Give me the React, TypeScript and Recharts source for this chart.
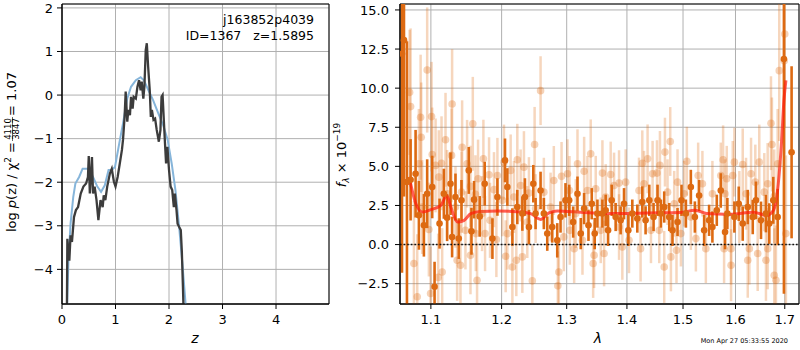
import React from 'react';
import {
  ComposedChart, Line, Scatter, ErrorBar, XAxis, YAxis, CartesianGrid,
  ReferenceLine, ReferenceArea, Label,
} from 'recharts';

// left panel: log p(z)
const pzRaw: [number, number][] = [
  [0.09, -5.2], [0.10, -3.3], [0.137, -3.8], [0.16, -3.22], [0.186, -3.37], [0.224, -2.8],
  [0.26, -2.64], [0.30, -2.57], [0.35, -2.26], [0.40, -2.1], [0.45, -2.03], [0.485, -1.88],
  [0.50, -1.40], [0.52, -2.26], [0.54, -1.88], [0.56, -1.42], [0.58, -2.26], [0.61, -2.1],
  [0.645, -2.41], [0.68, -2.87], [0.72, -2.41], [0.76, -2.57], [0.78, -2.3], [0.81, -2.41],
  [0.845, -2.1], [0.895, -1.8], [0.93, -1.69], [0.97, -1.99], [1.0, -2.1], [1.04, -1.88],
  [1.08, -1.57], [1.12, -1.26], [1.14, -1.03], [1.17, -0.5], [1.19, 0.08], [1.22, -0.61],
  [1.24, -0.34], [1.27, -0.46], [1.29, -0.04], [1.32, -0.31], [1.34, -0.04], [1.38, -0.08],
  [1.41, 0.19], [1.44, 0.34], [1.47, 0.11], [1.49, 0.31], [1.52, -0.08], [1.54, 0.19],
  [1.565, 1.03], [1.585, 1.19], [1.61, 0.65], [1.64, 0.11], [1.66, -0.5], [1.68, -0.34],
  [1.71, -0.57], [1.74, -0.54], [1.77, -0.8], [1.81, -1.07], [1.84, -0.8], [1.86, -0.04],
  [1.88, 0.0], [1.90, -0.5], [1.925, -1.11], [1.945, -1.57], [1.97, -1.19], [2.0, -1.72],
  [2.03, -2.1], [2.06, -2.18], [2.09, -2.57], [2.11, -2.26], [2.14, -2.64], [2.16, -2.95],
  [2.19, -3.03], [2.22, -3.1], [2.24, -3.6], [2.26, -4.4], [2.28, -5.3],
];

const pzPrior: [number, number][] = [
  [0.08, -5.5], [0.12, -3.8], [0.16, -2.95], [0.21, -2.34], [0.25, -2.03], [0.32, -1.88],
  [0.385, -1.69], [0.49, -1.69], [0.58, -1.88], [0.66, -2.1], [0.73, -2.22], [0.80, -2.07],
  [0.87, -1.72], [0.93, -1.72], [0.99, -1.65], [1.07, -1.11], [1.14, -0.65], [1.22, -0.08],
  [1.29, 0.19], [1.38, 0.34], [1.47, 0.41], [1.53, 0.34], [1.60, 0.15], [1.70, -0.11],
  [1.80, -0.42], [1.89, -0.69], [1.975, -1.03], [2.05, -1.57], [2.12, -2.18], [2.19, -3.03],
  [2.25, -3.87], [2.31, -4.79], [2.34, -5.3],
];

const zTicks = [0, 1, 2, 3, 4];
const pzTicks = [-4, -3, -2, -1, 0, 1, 2];

// right panel: spectrum [lambda, flux, err]
const darkPoints: [number, number, number][] = [
  [1.0616, 12.2, 14], [1.0642, 13.07, 10], [1.0681, 4.0, 9], [1.0729, 4.14, 2.6], [1.0795, 4.53, 2.8],
  [1.0839, 1.87, 2.2], [1.0906, 1.23, 2.0], [1.0950, 3.25, 2.2], [1.1018, 3.68, 2.0], [1.1050, -2.7, 1.6],
  [1.1118, 1.34, 1.6], [1.1177, 3.25, 1.6], [1.1222, 1.72, 1.5], [1.1269, 3.89, 2.0], [1.1291, 0.48, 1.3],
  [1.1338, 3.04, 1.5], [1.1384, 0.38, 1.3], [1.1422, 2.83, 1.3], [1.1525, 4.74, 1.5], [1.1563, 0.85, 1.5],
  [1.1600, 2.87, 1.2], [1.1681, 1.80, 1.3], [1.1753, 3.89, 1.4], [1.1865, 0.38, 1.3], [1.1938, 3.04, 1.2],
  [1.2050, 5.38, 1.4], [1.2085, 3.68, 1.2], [1.2160, 1.12, 1.2], [1.2234, 2.40, 1.1], [1.2310, 1.98, 1.1],
  [1.2349, 3.04, 1.2], [1.2410, 1.12, 1.1], [1.2477, 3.89, 1.2], [1.2512, 1.98, 1.0], [1.2589, 3.46, 1.2],
  [1.2640, 1.98, 1.0], [1.2693, 0.70, 1.1], [1.2771, 1.12, 1.0], [1.2850, 0.27, 1.1], [1.2902, 1.76, 1.0],
  [1.2981, 2.83, 1.1], [1.3040, 2.83, 1.0], [1.3104, 1.44, 1.0], [1.3174, 3.25, 1.1], [1.3227, 0.70, 1.0],
  [1.3282, 2.30, 1.0], [1.3353, 1.23, 1.0], [1.3407, 2.61, 1.0], [1.3456, 0.70, 1.0], [1.3501, 1.98, 0.9],
  [1.3584, 1.98, 0.9], [1.3639, 2.19, 1.0], [1.3679, 0.91, 1.0], [1.3740, 2.83, 1.0], [1.3807, 1.76, 0.9],
  [1.3892, 1.55, 0.9], [1.3950, 2.61, 1.0], [1.4024, 0.91, 1.0], [1.4093, 1.98, 0.9], [1.4180, 1.66, 0.9],
  [1.4267, 2.72, 1.0], [1.4325, 1.55, 0.9], [1.4390, 2.83, 1.0], [1.4466, 1.76, 0.9], [1.4537, 2.83, 1.0],
  [1.4598, 1.98, 0.9], [1.4657, 2.40, 1.0], [1.4748, 1.76, 0.9], [1.4807, 0.91, 1.0], [1.4899, 1.44, 0.9],
  [1.4972, 2.83, 1.0], [1.5053, 1.98, 0.9], [1.5145, 3.68, 1.1], [1.5220, 1.76, 1.0], [1.5300, 3.14, 1.0],
  [1.5395, 0.91, 1.0], [1.5489, 1.55, 1.0], [1.5552, 1.12, 1.0], [1.5636, 2.19, 1.0], [1.5713, 3.46, 1.1],
  [1.5796, 0.80, 1.1], [1.5841, 1.98, 1.0], [1.5978, 1.76, 1.0], [1.6064, 2.61, 1.1], [1.6143, 1.34, 1.1],
  [1.6243, 2.40, 1.1], [1.6343, 1.76, 1.1], [1.6409, 2.83, 1.2], [1.6510, 1.55, 1.2], [1.6611, 1.98, 1.2],
  [1.6679, 1.34, 1.3], [1.6761, 2.83, 1.5], [1.6852, 1.76, 1.8], [1.6982, 11.86, 15], [1.7143, 5.9, 5.5],
];

const lightPoints: [number, number, number][] = [
  [1.0716, 9.73, 4], [1.0950, 11.16, 4], [1.0729, 8.82, 5], [1.1291, 8.99, 3.5], [1.0862, 8.14, 4],
  [1.1009, 8.18, 3.5], [1.0870, 6.86, 3.5], [1.1200, 6.70, 3], [1.1431, 6.22, 3], [1.1582, 7.72, 3],
  [1.1018, 5.76, 3], [1.1283, 5.70, 3], [1.1145, 5.20, 3], [1.0839, 5.17, 3.5], [1.1064, 5.06, 3],
  [1.1501, 5.17, 2.8], [1.1657, 4.21, 2.5], [1.1549, 3.72, 2.6], [1.1108, 4.31, 3], [1.1422, 3.35, 2.6],
  [1.1620, 3.21, 2.5], [1.1338, 2.40, 2.6], [1.1714, 1.98, 2.4], [1.0973, 0.96, 3], [1.1478, 0.91, 2.5],
  [1.1625, 0.70, 2.4], [1.1549, -0.68, 2.5], [1.1361, -1.00, 2.6], [1.1408, -1.32, 2.6], [1.1154, -1.75, 2.8],
  [1.1099, -2.10, 2.8], [1.1643, -2.28, 2.4], [1.0817, -3.34, 4], [1.0996, -3.13, 3], [1.0773, -1.21, 4],
  [1.0883, 2.40, 3], [1.1222, 3.25, 2.8], [1.2589, 9.84, 2.2], [1.2497, 6.40, 2.4], [1.1734, 5.48, 2.5],
  [1.2035, 5.27, 2.4], [1.2234, 5.42, 2.3], [1.1938, 4.42, 2.4], [1.2134, 4.74, 2.3], [1.2334, 4.95, 2.3],
  [1.1816, 4.46, 2.4], [1.2918, 4.36, 2.2], [1.2796, 4.10, 2.2], [1.1888, 3.51, 2.4], [1.2284, 3.78, 2.3],
  [1.2410, 3.29, 2.3], [1.2640, 3.35, 2.2], [1.2183, 3.04, 2.3], [1.2011, 2.83, 2.3], [1.2512, 2.30, 2.2],
  [1.2745, 2.40, 2.2], [1.1830, 1.55, 2.4], [1.2385, 1.44, 2.3], [1.2085, 0.70, 2.3], [1.2954, 0.49, 2.2],
  [1.2060, -0.75, 2.3], [1.2310, -0.79, 2.3], [1.2160, -1.43, 2.3], [1.2219, -1.00, 2.3], [1.2875, -1.75, 2.2],
  [1.2462, -2.32, 2.3], [1.2859, -2.64, 2.2], [1.1923, 0.32, 2.4], [1.1758, 0.70, 2.4], [1.3390, 5.80, 2.2],
  [1.3174, 5.17, 2.2], [1.3584, 4.57, 2.1], [1.3282, 4.69, 2.2], [1.3723, 4.48, 2.1], [1.3865, 3.93, 2.1],
  [1.3978, 3.99, 2.1], [1.4267, 5.20, 2.1], [1.4297, 3.89, 2.1], [1.3013, 4.53, 2.2], [1.3045, 3.46, 2.2],
  [1.3473, 3.57, 2.1], [1.3780, 3.78, 2.1], [1.4209, 3.46, 2.1], [1.3336, 3.46, 2.2], [1.3639, 3.04, 2.1],
  [1.3146, 1.98, 2.2], [1.3050, 0.91, 2.2], [1.3255, 0.27, 2.2], [1.3556, 0.91, 2.1], [1.4036, 0.27, 2.1],
  [1.4237, -0.26, 2.1], [1.3120, -0.26, 2.2], [1.3446, -0.68, 2.1], [1.3430, -1.21, 2.2], [1.3612, -0.57, 2.1],
  [1.3921, -0.15, 2.1], [1.3865, 1.12, 2.1], [1.4766, 6.59, 2.2], [1.4670, 5.91, 2.2], [1.4360, 5.48, 2.2],
  [1.4580, 5.06, 2.2], [1.5758, 5.42, 2.2], [1.5071, 5.33, 2.2], [1.4449, 4.53, 2.1], [1.4527, 4.57, 2.1],
  [1.5282, 4.42, 2.1], [1.5713, 4.42, 2.1], [1.4899, 3.99, 2.1], [1.5362, 3.89, 2.1], [1.4717, 3.35, 2.1],
  [1.5552, 3.25, 2.1], [1.5021, 3.25, 2.1], [1.5829, 4.21, 2.1], [1.4420, 0.91, 2.1], [1.4568, 0.91, 2.1],
  [1.4961, 0.70, 2.1], [1.5239, 0.38, 2.1], [1.5427, -0.26, 2.2], [1.5777, -0.26, 2.2], [1.4880, -0.36, 2.1],
  [1.4778, -0.79, 2.2], [1.4657, -1.43, 2.3], [1.5145, 1.76, 2.1], [1.4838, 2.61, 2.1], [1.5978, 5.27, 2.2],
  [1.6143, 5.12, 2.3], [1.6475, 5.27, 2.4], [1.6309, 4.53, 2.3], [1.5946, 4.42, 2.2], [1.6395, 3.99, 2.4],
  [1.6646, 3.89, 2.6], [1.6734, 6.40, 3], [1.6714, 7.76, 3], [1.6885, 11.12, 4.5], [1.6989, 11.75, 6],
  [1.7000, 13.46, 6], [1.6852, 5.17, 3.5], [1.6781, 3.08, 3], [1.5796, 3.25, 2.2], [1.6209, 3.25, 2.3],
  [1.6577, 3.35, 2.5], [1.6076, 2.40, 2.3], [1.5913, -0.26, 2.3], [1.6275, -0.26, 2.3], [1.6646, -0.26, 2.6],
  [1.6243, -1.00, 2.4], [1.6611, -1.00, 2.6], [1.6443, -0.57, 2.4], [1.6781, -1.96, 3], [1.6816, -2.28, 3.5],
  [1.7024, 0.70, 5], [1.5913, -1.32, 2.3],
];

const modelLine: [number, number][] = [
  [1.0711, 4.31], [1.0799, 2.61], [1.0889, 2.08], [1.1, 2.23], [1.1136, 2.51], [1.1218, 3.14],
  [1.1273, 2.4], [1.1366, 1.44], [1.1459, 1.55], [1.1553, 1.98], [1.1696, 2.12], [1.1938, 2.14],
  [1.2234, 2.10], [1.2436, 1.98], [1.2589, 1.61], [1.2718, 2.03], [1.2850, 2.15], [1.3222, 2.07],
  [1.3774, 1.98], [1.4350, 2.02], [1.4948, 2.05], [1.5226, 2.19], [1.5446, 1.98], [1.5893, 1.93],
  [1.6355, 2.07], [1.6626, 1.87], [1.6761, 2.17], [1.6864, 3.87], [1.6934, 6.65], [1.6982, 9.2],
  [1.7024, 10.5],
];

const lamTicks = [1.1, 1.2, 1.3, 1.4, 1.5, 1.6, 1.7];
const fluxTicks = [-2.5, 0, 2.5, 5, 7.5, 10, 12.5, 15];

const FLUX_MIN = -3.8;
const FLUX_MAX = 15.38;

const FONT = 'DejaVu Sans';
const ORANGE = '#dd6a12';
const tickStyle = { fill: '#000', fontSize: 13, fontFamily: FONT };
const minus = (s: string) => s.replace('-', '\u2212');
const NB = '\u00a0';

const LeftYLabel = () => (
  <g transform="rotate(-90)" fontFamily={FONT} fill="#000">
    <text x={-142} y={16} textAnchor="end" fontSize={13}>
      <tspan>{`log${NB}`}</tspan>
      <tspan fontStyle="italic">p</tspan>
      <tspan>{`(z)${NB}/${NB}χ`}</tspan>
      <tspan dy={-5} fontSize={9}>2</tspan>
      <tspan dy={5}>{`${NB}=`}</tspan>
    </text>
    <text x={-129} y={11} textAnchor="middle" fontSize={8.5}>4110</text>
    <line x1={-141} x2={-117} y1={12.5} y2={12.5} stroke="#000" strokeWidth={0.6} />
    <text x={-129} y={19} textAnchor="middle" fontSize={8.5}>3847</text>
    <text x={-116} y={16} textAnchor="start" fontSize={13}>{`=${NB}1.07`}</text>
  </g>
);

const LeftNotes = () => (
  <g fontFamily={FONT} fontSize={12.5} fill="#000" textAnchor="end">
    <text x={314} y={24}>j163852p4039</text>
    <text x={314} y={40}>{`ID=1367${NB}${NB}${NB}z=1.5895`}</text>
    <text x={195} y={343} textAnchor="middle" fontStyle="italic" fontSize={14}>z</text>
  </g>
);

const RightYLabel = () => (
  <g transform="rotate(-90)" fontFamily={FONT} fill="#000">
    <text x={-155} y={16} textAnchor="middle" fontSize={13}>
      <tspan fontStyle="italic">f</tspan>
      <tspan dy={3} fontSize={9} fontStyle="italic">λ</tspan>
      <tspan dy={-3}>{`${NB}×${NB}10`}</tspan>
      <tspan dy={-6} fontSize={9}>−19</tspan>
    </text>
  </g>
);

const RightNotes = () => (
  <g fontFamily={FONT} fill="#000">
    <text x={268} y={343} textAnchor="middle" fontStyle="italic" fontSize={14}>λ</text>
    <text x={458} y={343} textAnchor="end" fontSize={6.5}>Mon Apr 27 05:33:55 2020</text>
  </g>
);

const dot = (r: number, opacity: number) => (p: any) =>
  <circle cx={p.cx} cy={p.cy} r={r} fill={ORANGE} fillOpacity={opacity} />;

// error bars stop at the frame, like the clipped original
const toBars = ([l, v, e]: [number, number, number]) => ({
  l, v, e: [Math.min(e, v - FLUX_MIN), Math.min(e, FLUX_MAX - v)],
});

export default function App() {
  const pzData = pzRaw.map(([z, p]) => ({ z, p }));
  const priorData = pzPrior.map(([z, p]) => ({ z, p }));
  const dark = darkPoints.map(toBars);
  const light = lightPoints.map(toBars);
  const model = modelLine.map(([l, m]) => ({ l, m }));

  return (
    <div style={{ position: 'absolute', left: 0, top: 0, width: 800, height: 350, background: '#fff' }}>
      <div style={{ position: 'absolute', left: 0, top: 0 }}>
        <ComposedChart width={331} height={350} margin={{ top: 4, right: 2, bottom: 16, left: 22 }}>
          <CartesianGrid stroke="#b0b0b0" strokeWidth={1} />
          <XAxis dataKey="z" type="number" domain={[0, 4.99]} ticks={zTicks} allowDataOverflow
            height={30} tickSize={5} tickMargin={6} tick={tickStyle} stroke="#000">
            <Label content={LeftNotes} />
          </XAxis>
          <YAxis type="number" domain={[-4.795, 2.09]} ticks={pzTicks} allowDataOverflow
            width={40} tickSize={5} tickMargin={4} tick={tickStyle} stroke="#000"
            tickFormatter={(v: number) => minus(String(v))}>
            <Label content={LeftYLabel} />
          </YAxis>
          <ReferenceArea x1={0} x2={4.99} y1={-4.795} y2={2.09} fill="none" stroke="#000" strokeWidth={1} ifOverflow="visible" />
          <Line data={priorData} dataKey="p" type="linear" stroke="#86b5da" strokeWidth={2}
            dot={false} isAnimationActive={false} />
          <Line data={pzData} dataKey="p" type="linear" stroke="#3c3c3c" strokeWidth={2.3}
            dot={false} isAnimationActive={false} />
        </ComposedChart>
      </div>
      <div style={{ position: 'absolute', left: 330, top: 0 }}>
        <ComposedChart width={470} height={350} margin={{ top: 4, right: 1, bottom: 16, left: 10 }}>
          <CartesianGrid stroke="#b0b0b0" strokeWidth={1} />
          <XAxis dataKey="l" type="number" scale="log" domain={[1.059, 1.73]} ticks={lamTicks} allowDataOverflow
            height={30} tickSize={5} tickMargin={6} tick={tickStyle} stroke="#000"
            tickFormatter={(v: number) => v.toFixed(1)}>
            <Label content={RightNotes} />
          </XAxis>
          <YAxis type="number" domain={[FLUX_MIN, FLUX_MAX]} ticks={fluxTicks} allowDataOverflow
            width={60} tickSize={5} tickMargin={6} tick={tickStyle} stroke="#000"
            tickFormatter={(v: number) => minus(v.toFixed(1))}>
            <Label content={RightYLabel} />
          </YAxis>
          <ReferenceArea x1={1.059} x2={1.73} y1={FLUX_MIN} y2={FLUX_MAX} fill="none" stroke="#000" strokeWidth={1} ifOverflow="visible" />
          <Scatter data={light} dataKey="v" isAnimationActive={false} shape={dot(3.8, 0.3)}>
            <ErrorBar dataKey="e" direction="y" width={0} stroke={ORANGE} strokeOpacity={0.28} strokeWidth={2.5} />
          </Scatter>
          <Scatter data={dark} dataKey="v" isAnimationActive={false} shape={dot(3.3, 1)}>
            <ErrorBar dataKey="e" direction="y" width={0} stroke={ORANGE} strokeWidth={2.6} />
          </Scatter>
          <ReferenceLine y={0} stroke="#111" strokeWidth={1.6} strokeDasharray="1.6 2" />
          <Line data={model} dataKey="m" type="monotone" stroke="#ff1a0a" strokeOpacity={0.7}
            strokeWidth={3} dot={false} isAnimationActive={false} />
        </ComposedChart>
      </div>
    </div>
  );
}
